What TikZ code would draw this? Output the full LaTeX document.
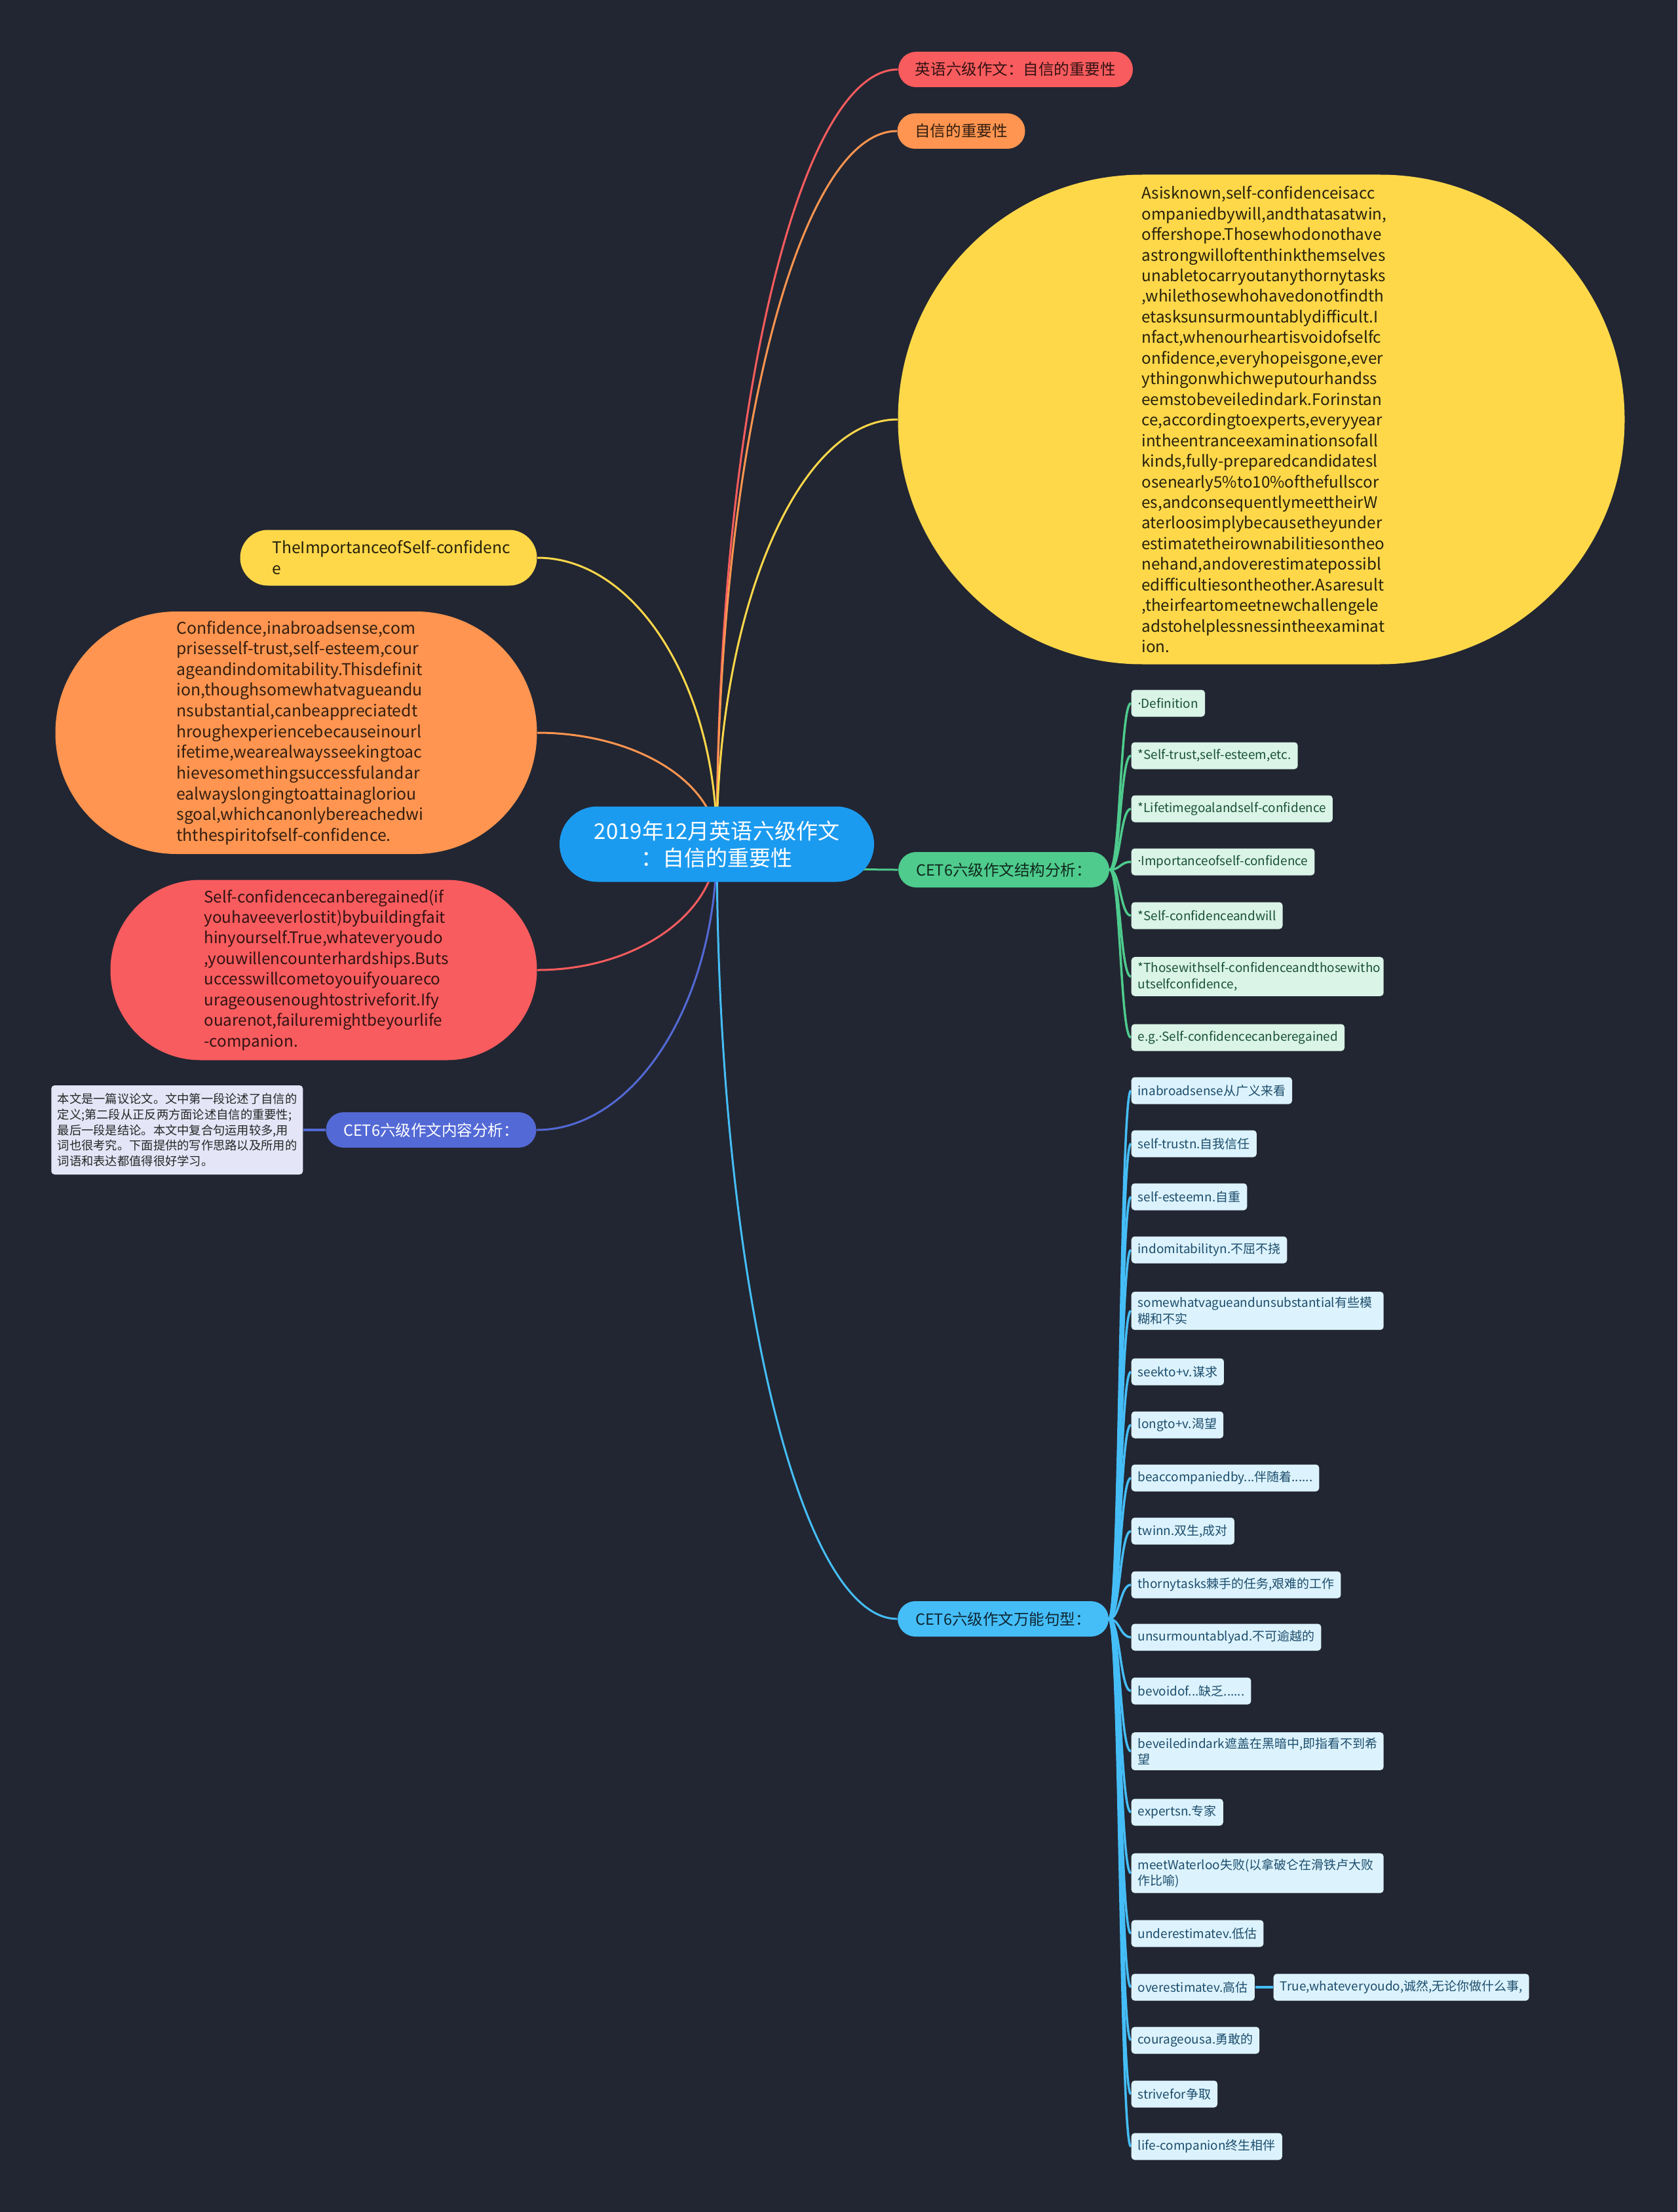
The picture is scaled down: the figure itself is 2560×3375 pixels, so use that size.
\documentclass[tikz,border=0pt]{standalone}
\usepackage{fontspec}
\setmainfont{Noto Sans CJK SC}
\newfontfamily\latinf{Noto Sans}
\usepackage{tikz}
\usetikzlibrary{calc}
\definecolor{bgnavy}{HTML}{222632}
\definecolor{rootblue}{HTML}{1B9BF0}
\definecolor{redk}{HTML}{F95C5E}
\definecolor{orangek}{HTML}{FF9550}
\definecolor{yellowk}{HTML}{FFD84A}
\definecolor{greenk}{HTML}{4ECB8D}
\definecolor{bluek}{HTML}{45BEF8}
\definecolor{violetk}{HTML}{5369D5}
\definecolor{notefill}{HTML}{E4E6F7}
\definecolor{mint}{HTML}{DAF4E7}
\definecolor{mintink}{HTML}{1A5236}
\definecolor{ice}{HTML}{DCF3FD}
\definecolor{iceink}{HTML}{1D4D6C}
\newcommand{\middot}{{\latinf\char"00B7}}
\hyphenpenalty=10000
\exhyphenpenalty=10000
\pgfdeclarelayer{back}
\pgfdeclarelayer{wires}
\pgfsetlayers{back,wires,main}

\begin{document}
\begin{tikzpicture}[x=0.1mm,y=-0.1mm,
  pill/.style={rounded corners=2.7mm, minimum height=5.4mm, inner sep=0pt, font=\fontsize{6.7pt}{8pt}\selectfont},
  blob/.style={align=left, inner sep=0pt, text width=36.5mm, font=\fontsize{6.9pt}{8.95pt}\selectfont},
  itemg/.style={anchor=west, fill=mint, text=mintink, rounded corners=0.5mm, align=left, inner xsep=1mm, inner ysep=0.8mm, minimum height=4.1mm, font=\fontsize{5.4pt}{7pt}\selectfont},
  itemb/.style={itemg, fill=ice, text=iceink},
  twoline/.style={text width=36.5mm},
  oneline/.style={},
  wire/.style={line width=0.3mm},
  twig/.style={line width=0.35mm}]
\useasboundingbox (0,0) rectangle (2560,3375);
\begin{pgfonlayer}{back}
\fill[bgnavy] (0,0) rectangle (2560,3375);
\end{pgfonlayer}
% centre topic
\node[fill=rootblue, text=white, rounded corners=5.75mm, minimum width=48mm, minimum height=11.5mm, inner sep=0pt, align=center,
  font=\fontsize{9.4pt}{11.7pt}\selectfont] (root) at (1094,1288) {2019年12月英语六级作文\\：自信的重要性};
% right branches
\node[pill, fill=redk, text={black!80!redk}, minimum width=35.8mm] (topic) at (1550,106) {英语六级作文：自信的重要性};
\node[pill, fill=orangek, text={black!80!orangek}, minimum width=19.5mm] (import) at (1467,200) {自信的重要性};
\node[blob, fill=yellowk, text={black!85!yellowk}, minimum width=110.9mm, minimum height=74.7mm, rounded corners=37.3mm] (essay) at (1925,640) {Asisknown,self-confidenceisacc\\ompaniedbywill,andthatasatwin,\\offershope.Thosewhodonothave\\astrongwilloftenthinkthemselves\\unabletocarryoutanythornytasks\\,whilethosewhohavedonotfindth\\etasksunsurmountablydifficult.I\\nfact,whenourheartisvoidofselfc\\onfidence,everyhopeisgone,ever\\ythingonwhichweputourhandss\\eemstobeveiledindark.Forinstan\\ce,accordingtoexperts,everyyear\\intheentranceexaminationsofall\\kinds,fully-preparedcandidatesl\\osenearly5\%to10\%ofthefullscor\\es,andconsequentlymeettheirW\\aterloosimplybecausetheyunder\\estimatetheirownabilitiesontheo\\nehand,andoverestimatepossibl\\edifficultiesontheother.Asaresult\\,theirfeartomeetnewchallengele\\adstohelplessnessintheexaminat\\ion.};
\node[pill, fill=greenk, text={black!80!greenk}, minimum width=32.2mm] (structure) at (1532,1327) {CET6六级作文结构分析：};
\node[pill, fill=bluek, text={black!80!bluek}, minimum width=32.2mm] (phrases) at (1531,2470) {CET6六级作文万能句型：};
% left branches
\node[blob, fill=yellowk, text={black!85!yellowk}, text width=35.5mm, minimum width=45.3mm, minimum height=8.5mm, rounded corners=4.25mm,
  font=\fontsize{7pt}{9.1pt}\selectfont] (title) at (593,851) {TheImportanceofSelf-confidenc\\e};
\node[blob, fill=orangek, text={black!80!orangek}, minimum width=73.5mm, minimum height=37mm, rounded corners=18.5mm,
  font=\fontsize{7.05pt}{9pt}\selectfont] (defin) at (452,1118) {Confidence,inabroadsense,com\\prisesself-trust,self-esteem,cour\\ageandindomitability.Thisdefinit\\ion,thoughsomewhatvagueandu\\nsubstantial,canbeappreciatedt\\hroughexperiencebecauseinourl\\ifetime,wearealwaysseekingtoac\\hievesomethingsuccessfulandar\\ealwayslongingtoattainagloriou\\sgoal,whichcanonlybereachedwi\\ththespiritofself-confidence.};
\node[blob, fill=redk, text={black!80!redk}, minimum width=65.1mm, minimum height=27.5mm, rounded corners=13.75mm] (regain) at (494,1480) {Self-confidencecanberegained(if\\youhaveeverlostit)bybuildingfait\\hinyourself.True,whateveryoudo\\,youwillencounterhardships.Buts\\uccesswillcometoyouifyouareco\\urageousenoughtostriveforit.Ify\\ouarenot,failuremightbeyourlife\\-companion.};
\node[pill, fill=violetk, text=white, minimum width=32.1mm] (content) at (658,1724) {CET6六级作文内容分析：};
\node[anchor=east, fill=notefill, text=black!85, rounded corners=0.5mm, text width=36.5mm, inner xsep=0.95mm, minimum height=13.6mm, align=left,
  font=\fontsize{5.2pt}{6.7pt}\selectfont] (note) at (463,1724) {本文是一篇议论文。文中第一段论述了自信的\\定义;第二段从正反两方面论述自信的重要性;\\最后一段是结论。本文中复合句运用较多,用\\词也很考究。下面提供的写作思路以及所用的\\词语和表达都值得很好学习。};
% structure list
\foreach \y/\t/\o [count=\i] in {1073/{\middot Definition}/oneline, 1153/{*Self-trust,self-esteem,etc.}/oneline,
  1234/{*Lifetimegoalandself-confidence}/oneline, 1315/{\middot Importanceofself-confidence}/oneline,
  1397/{*Self-confidenceandwill}/oneline, 1490/{*Thosewithself-confidenceandthosewitho\\utselfconfidence,}/twoline,
  1583/{e.g.\middot Self-confidencecanberegained}/oneline}
  \node[itemg,\o] (g\i) at (1726,\y) {\t};
% phrase list
\foreach \y/\t/\o [count=\i] in {1664/{inabroadsense从广义来看}/oneline, 1745/{self-trustn.自我信任}/oneline,
  1826/{self-esteemn.自重}/oneline, 1907/{indomitabilityn.不屈不挠}/oneline,
  2000/{somewhatvagueandunsubstantial有些模\\糊和不实}/twoline, 2093/{seekto+v.谋求}/oneline,
  2174/{longto+v.渴望}/oneline, 2255/{beaccompaniedby...伴随着......}/oneline,
  2336/{twinn.双生,成对}/oneline, 2418/{thornytasks棘手的任务,艰难的工作}/oneline,
  2498/{unsurmountablyad.不可逾越的}/oneline, 2580/{bevoidof...缺乏......}/oneline,
  2672/{beveiledindark遮盖在黑暗中,即指看不到希\\望}/twoline, 2765/{expertsn.专家}/oneline,
  2858/{meetWaterloo失败(以拿破仑在滑铁卢大败\\作比喻)}/twoline, 2950/{underestimatev.低估}/oneline,
  3032/{overestimatev.高估}/oneline, 3113/{courageousa.勇敢的}/oneline,
  3195/{strivefor争取}/oneline, 3275/{life-companion终生相伴}/oneline}
  \node[itemb,\o] (b\i) at (1726,\y) {\t};
\node[itemb] (truewhat) at (1943,3032) {True,whateveryoudo,诚然,无论你做什么事,};
% connectors
\begin{pgfonlayer}{wires}
\foreach \n/\c in {topic/redk, import/orangek, essay/yellowk, structure/greenk, phrases/bluek}
  \draw[wire, \c] (root.center) .. controls ($(root.center)!0.55!(root.center|-\n.west)$) and ($(\n.west)!0.55!(root.center|-\n.west)$) .. (\n.west);
\foreach \n/\c in {title/yellowk, defin/orangek, regain/redk, content/violetk}
  \draw[wire, \c] (root.center) .. controls ($(root.center)!0.55!(root.center|-\n.east)$) and ($(\n.east)!0.55!(root.center|-\n.east)$) .. (\n.east);
\foreach \i in {1,...,7}
  \draw[twig, greenk] (structure.east) .. controls ($(structure.east)!0.5!(structure.east-|g\i.west)$) and ($(g\i.west)!0.5!(structure.east|-g\i.west)$) .. (g\i.west);
\foreach \i in {1,...,20}
  \draw[twig, bluek] (phrases.east) .. controls ($(phrases.east)!0.5!(phrases.east-|b\i.west)$) and ($(b\i.west)!0.5!(phrases.east|-b\i.west)$) .. (b\i.west);
\draw[line width=0.4mm, bluek] (b17.east) -- (truewhat.west);
\draw[line width=0.4mm, violetk] (note.east) -- (content.west);
\end{pgfonlayer}
\end{tikzpicture}
\end{document}
